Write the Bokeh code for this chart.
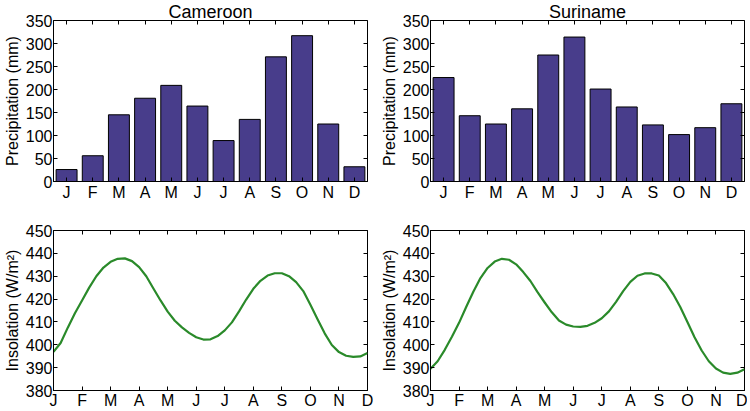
from bokeh.plotting import figure
from bokeh.models import (Range1d, FixedTicker, SingleIntervalTicker, LinearAxis,
                          CustomLabelingPolicy)
from bokeh.layouts import column, row
from bokeh.embed import file_html
from bokeh.resources import INLINE

# ---------------- data ----------------
month_labels = ["J", "F", "M", "A", "M", "J", "J", "A", "S", "O", "N", "D"]
bar_pos = [1, 2, 3, 4, 5, 6, 7, 8, 9, 10, 11, 12]
line_tick_pos = [0, 1, 2, 3, 4, 5, 6, 7, 8, 9, 10, 11]

cameroon_precip = [26, 56, 145, 181, 209, 164, 89, 135, 271, 317, 125, 32]
suriname_precip = [226, 143, 125, 158, 275, 314, 201, 162, 123, 102, 117, 169]

insol_pos = [0, 0.25, 0.5, 0.75, 1, 1.25, 1.5, 1.75, 2, 2.25, 2.5, 2.75,
             3, 3.25, 3.5, 3.75, 4, 4.25, 4.5, 4.75, 5, 5.25, 5.5, 5.75,
             6, 6.25, 6.5, 6.75, 7, 7.25, 7.5, 7.75, 8, 8.25, 8.5, 8.75,
             9, 9.25, 9.5, 9.75, 10, 10.25, 10.5, 10.75, 11]

cameroon_insol = [396.9, 400.8, 407.5, 413.8, 419.4, 425.0, 430.0, 433.8,
                  436.3, 437.6, 437.8, 436.6, 434.0, 430.0, 424.6, 419.4,
                  414.5, 410.5, 407.6, 405.2, 403.3, 402.3, 402.4, 403.8,
                  406.3, 409.8, 414.6, 419.8, 424.5, 428.0, 430.3, 431.3,
                  431.3, 430.0, 427.4, 423.5, 417.5, 411.2, 405.0, 399.9,
                  396.8, 395.2, 394.7, 394.9, 396.4]

suriname_insol = [389.5, 392.8, 397.8, 403.5, 409.6, 416.5, 423.2, 429.2,
                  433.6, 436.4, 437.6, 437.2, 435.2, 431.8, 427.9, 423.0,
                  418.5, 414.2, 410.6, 408.8, 408.0, 407.8, 408.3, 409.6,
                  411.6, 414.6, 418.8, 423.5, 427.5, 430.2, 431.2, 431.2,
                  430.3, 427.0, 422.2, 416.5, 410.0, 403.3, 397.5, 392.8,
                  389.6, 387.8, 387.3, 387.8, 389.3]

titles = ["Cameroon", "Suriname"]

# ---------------- style ----------------
FONT = "Liberation Sans"
BAR_COLOR = "#483D8B"
LINE_COLOR = "#2a8a2a"


def style_axis(ax, ticker, overrides=None, show_labels=True, standoff=2):
    ax.ticker = ticker
    ax.axis_line_color = "black"
    ax.major_tick_in = 4
    ax.major_tick_out = 0
    ax.major_tick_line_color = "black"
    ax.minor_tick_line_color = None
    ax.major_label_text_font = FONT
    ax.major_label_text_color = "black"
    ax.major_label_text_font_size = "16px"
    ax.major_label_standoff = standoff
    if overrides:
        ax.major_label_overrides = overrides
    if not show_labels:
        ax.major_label_policy = CustomLabelingPolicy(code="return []")
        ax.major_label_text_font_size = "0px"
        ax.major_label_standoff = 0
        ax.axis_line_color = None


def make_fig(width, height, x_rng, y_rng, title, ylabel, xticks, yticker,
             overrides, br, bt, xstandoff):
    p = figure(width=width, height=height, x_range=x_rng, y_range=y_rng,
               output_backend="svg", toolbar_location=None,
               min_border_left=0, min_border_right=br,
               min_border_top=bt, min_border_bottom=0)
    p.xgrid.grid_line_color = None
    p.ygrid.grid_line_color = None
    p.outline_line_color = "black"
    p.outline_line_width = 1
    p.outline_line_alpha = 1
    p.background_fill_color = "white"
    p.border_fill_color = "white"
    if title:
        p.title.text = title
        p.title.align = "center"
        p.title.text_font = FONT
        p.title.text_font_size = "18px"
        p.title.text_font_style = "normal"
        p.title.text_color = "black"
        p.title.standoff = -2
    style_axis(p.xaxis[0], FixedTicker(ticks=xticks), overrides, True, xstandoff)
    style_axis(p.yaxis[0], yticker, None, True, 1)
    p.yaxis[0].axis_label = ylabel
    p.yaxis[0].axis_label_text_font = FONT
    p.yaxis[0].axis_label_text_font_size = "16px"
    p.yaxis[0].axis_label_text_font_style = "normal"
    p.yaxis[0].axis_label_text_color = "black"
    p.yaxis[0].axis_label_standoff = 2
    top_ax = LinearAxis()
    style_axis(top_ax, FixedTicker(ticks=xticks), None, False)
    p.add_layout(top_ax, "above")
    right_ax = LinearAxis()
    style_axis(right_ax, yticker, None, False)
    p.add_layout(right_ax, "right")
    return p


W1, W2 = 377, 370
H_TOP, H_BOT = 203, 208
bar_overrides = {pos: lab for pos, lab in zip(bar_pos, month_labels)}
line_overrides = {pos: lab for pos, lab in zip(line_tick_pos, month_labels)}

figs_top = []
figs_bot = []
for i, (precip, insol) in enumerate([(cameroon_precip, cameroon_insol),
                                     (suriname_precip, suriname_insol)]):
    w = W1 if i == 0 else W2
    br = 10 if i == 0 else 3
    pt = make_fig(w, H_TOP, Range1d(0.5, 12.5), Range1d(0, 350), titles[i],
                  "Precipitation (mm)", bar_pos,
                  SingleIntervalTicker(interval=50, num_minor_ticks=0),
                  bar_overrides, br, 0, 2)
    pt.vbar(x=bar_pos, top=precip, width=0.8, bottom=0,
            fill_color=BAR_COLOR, line_color="black", line_width=1)
    figs_top.append(pt)

    pb = make_fig(w, H_BOT, Range1d(0, 11), Range1d(380, 450), None,
                  "Insolation (W/m²)", line_tick_pos,
                  SingleIntervalTicker(interval=10, num_minor_ticks=0),
                  line_overrides, br, 27, 1)
    pb.line(x=insol_pos, y=insol, line_color=LINE_COLOR, line_width=2.2,
            line_join="round")
    figs_bot.append(pb)

layout = column(row(*figs_top), row(*figs_bot))

with open("out.html", "w") as f:
    f.write(file_html(layout, INLINE))
